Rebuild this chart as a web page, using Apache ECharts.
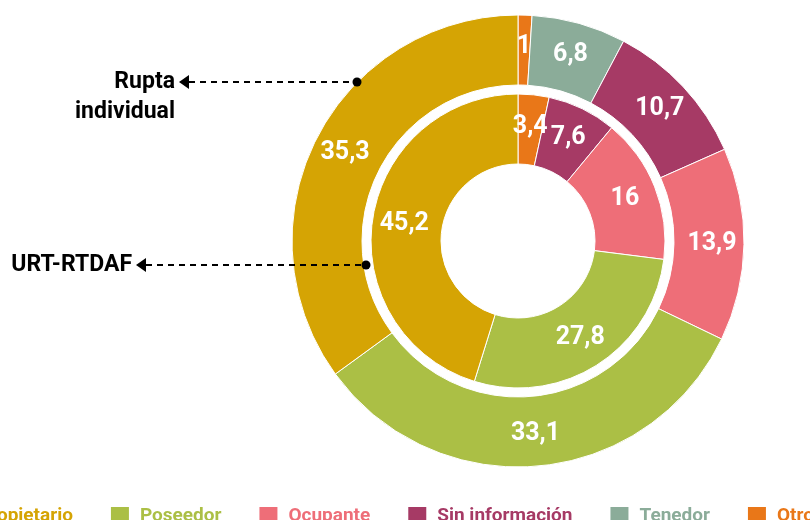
<!DOCTYPE html>
<html>
<head>
<meta charset="utf-8">
<script src="https://cdn.jsdelivr.net/npm/echarts@6/dist/echarts.min.js"></script>
<style>
  html, body { margin: 0; padding: 0; background: #fff; }
  #chart-panel { width: 810px; height: 520px; }
</style>
</head>
<body>
<div id="chart-panel"></div>
<script>
  /* categorías y colores */
  const categories = ['Propietario', 'Poseedor', 'Ocupante', 'Sin información', 'Tenedor', 'Otro']
  const colors = ['#D5A404', '#ABBF45', '#EE6E78', '#A63A65', '#8BAC99', '#E97718']

  /* anillo exterior: Rupta individual (orden horario desde arriba) */
  const outerNames = ['Otro', 'Tenedor', 'Sin información', 'Ocupante', 'Poseedor', 'Propietario']
  const outerValues = [1, 6.8, 10.7, 13.9, 33.1, 35.3]

  /* anillo interior: URT-RTDAF */
  const innerNames = ['Otro', 'Sin información', 'Ocupante', 'Poseedor', 'Propietario']
  const innerValues = [3.4, 7.6, 16, 27.8, 45.2]

  const FONT = 'Roboto, sans-serif'

  function colorOf(name) {
    return colors[categories.indexOf(name)]
  }

  function toData(names, values) {
    return names.map((n, i) => ({
      name: n,
      value: values[i],
      itemStyle: { color: colorOf(n) }
    }))
  }

  function fmt(p) {
    return String(p.value).replace('.', ',')
  }

  const labelStyle = {
    show: true,
    position: 'inside',
    formatter: fmt,
    color: '#fff',
    fontSize: 25,
    fontWeight: 'bold',
    fontFamily: FONT
  }

  /* anotaciones a la izquierda */
  function dashed(x1, y, x2) {
    return {
      type: 'line', z: 100,
      shape: { x1: x1, y1: y, x2: x2, y2: y },
      style: { stroke: '#000', lineWidth: 2, lineDash: [6, 5] }
    }
  }
  function arrow(x, y) {
    return {
      type: 'polygon', z: 100,
      shape: { points: [[x, y], [x + 10, y - 7], [x + 10, y + 7]] },
      style: { fill: '#000' }
    }
  }
  function dot(x, y) {
    return { type: 'circle', z: 100, shape: { cx: x, cy: y, r: 4.5 }, style: { fill: '#000' } }
  }

  let myChart = echarts.init(document.getElementById('chart-panel'))
  myChart.setOption({
    animation: false,
    legend: {
      data: categories.map((c, i) => ({ name: c, textStyle: { color: colors[i] } })),
      left: -58,
      top: 500,
      width: 1200,
      icon: 'rect',
      itemWidth: 20,
      itemHeight: 20,
      itemGap: 36,
      selectedMode: false,
      textStyle: {
        fontSize: 19,
        fontWeight: 'bold',
        fontFamily: FONT,
        padding: [0, 0, 0, 5]
      }
    },
    graphic: [
      {
        type: 'text', z: 100,
        x: 175, y: 97,
        style: {
          text: 'Rupta\nindividual',
          align: 'right',
          verticalAlign: 'middle',
          lineHeight: 30,
          fontSize: 23,
          fontWeight: 'bold',
          fontFamily: FONT,
          fill: '#000'
        }
      },
      arrow(179, 82), dashed(189, 82, 352), dot(357, 82),
      {
        type: 'text', z: 100,
        x: 132, y: 265,
        style: {
          text: 'URT-RTDAF',
          align: 'right',
          verticalAlign: 'middle',
          fontSize: 23,
          fontWeight: 'bold',
          fontFamily: FONT,
          fill: '#000'
        }
      },
      arrow(136, 265), dashed(146, 265, 361), dot(366, 265)
    ],
    series: [
      {
        name: 'Rupta individual',
        type: 'pie',
        center: [518, 241],
        radius: [156, 226],
        startAngle: 90,
        clockwise: true,
        avoidLabelOverlap: false,
        labelLine: { show: false },
        itemStyle: { borderColor: '#fff', borderWidth: 1 },
        label: labelStyle,
        emphasis: { disabled: true },
        data: toData(outerNames, outerValues)
      },
      {
        name: 'URT-RTDAF',
        type: 'pie',
        center: [518, 241],
        radius: [77, 147],
        startAngle: 90,
        clockwise: true,
        avoidLabelOverlap: false,
        labelLine: { show: false },
        itemStyle: { borderColor: '#fff', borderWidth: 1 },
        label: labelStyle,
        emphasis: { disabled: true },
        data: toData(innerNames, innerValues)
      }
    ]
  })
</script>
</body>
</html>
